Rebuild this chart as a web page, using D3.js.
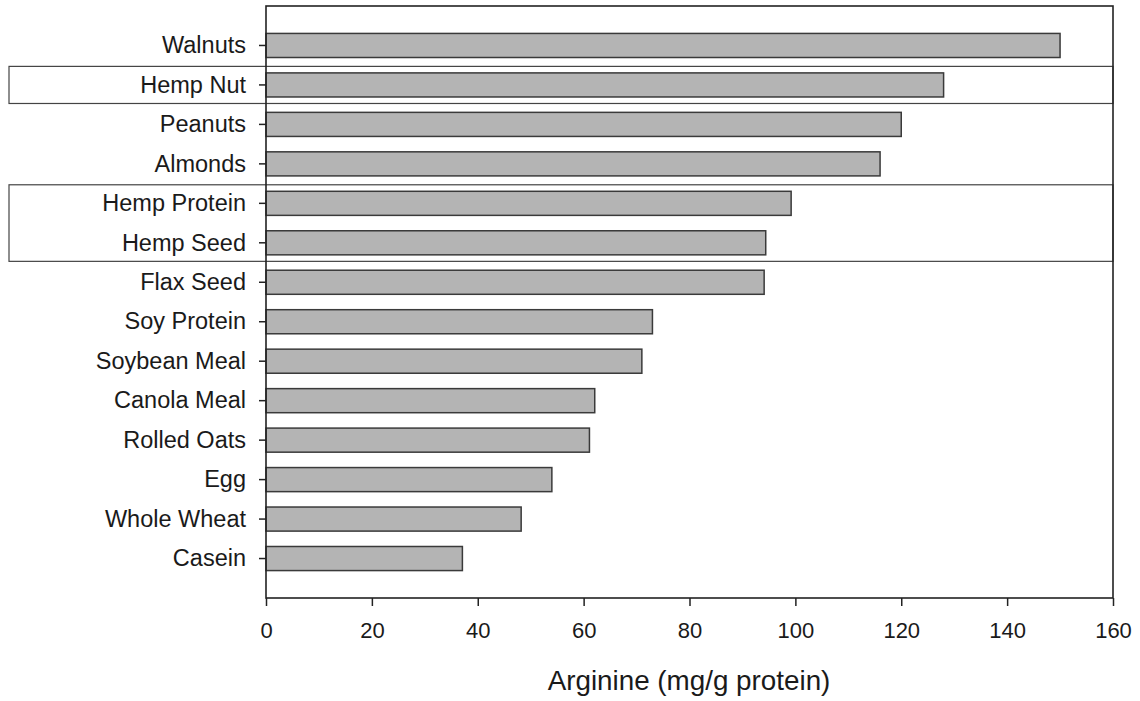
<!DOCTYPE html>
<html>
<head>
<meta charset="utf-8">
<script src="https://cdn.jsdelivr.net/npm/d3@7"></script>
<style>
  body { margin: 0; background: #fff; }
  svg { display: block; font-family: "Liberation Sans", Arial, sans-serif; }
</style>
</head>
<body>
<svg id="chart"></svg>
<script>
// data, top to bottom as drawn
const foods = ['Walnuts', 'Hemp Nut', 'Peanuts', 'Almonds', 'Hemp Protein', 'Hemp Seed',
  'Flax Seed', 'Soy Protein', 'Soybean Meal', 'Canola Meal', 'Rolled Oats', 'Egg',
  'Whole Wheat', 'Casein'];
const arginine = [150, 128, 120, 116, 99.2, 94.4, 94.1, 73, 71, 62.1, 61.1, 54, 48.2, 37.1];
const xTicks = [0, 20, 40, 60, 80, 100, 120, 140, 160];
const boxedGroups = [['Hemp Nut'], ['Hemp Protein', 'Hemp Seed']];
const xTitle = 'Arginine (mg/g protein)';

const W = 1140, H = 701;
const margin = { top: 6, right: 27, bottom: 103, left: 266 };
const boxLeft = 9;

const svg = d3.select('#chart').attr('width', W).attr('height', H);

const x = d3.scaleLinear()
  .domain([0, 160])
  .range([margin.left, W - margin.right]);

// one slot of padding above the first bar and below the last
const y = d3.scaleLinear()
  .domain([0, foods.length + 1])
  .range([margin.top, H - margin.bottom]);
const step = y(1) - y(0);
const barH = step * 0.61;

const yPos = name => y(foods.indexOf(name) + 1);

// highlight boxes behind everything
boxedGroups.forEach(g => {
  const top = yPos(g[0]) - step * 0.47;
  const bot = yPos(g[g.length - 1]) + step * 0.47;
  svg.append('rect')
    .attr('x', boxLeft)
    .attr('y', top)
    .attr('width', x(160) - boxLeft)
    .attr('height', bot - top)
    .attr('fill', 'none')
    .attr('stroke', '#444')
    .attr('stroke-width', 1.2);
});

// bars
svg.selectAll('.bar')
  .data(foods)
  .enter()
  .append('rect')
  .attr('class', 'bar')
  .attr('x', x(0))
  .attr('y', d => yPos(d) - barH / 2)
  .attr('width', (d, i) => x(arginine[i]) - x(0))
  .attr('height', barH)
  .attr('fill', '#b4b4b4')
  .attr('stroke', '#3a3a3a')
  .attr('stroke-width', 1.5);

// x axis
const xAxis = d3.axisBottom(x)
  .tickValues(xTicks)
  .tickSize(8)
  .tickSizeOuter(0)
  .tickPadding(16);

const gx = svg.append('g')
  .attr('transform', `translate(0, ${y(foods.length + 1)})`)
  .call(xAxis);
gx.select('.domain').remove();
gx.selectAll('line').attr('stroke', '#222').attr('stroke-width', 1.5);
gx.selectAll('text').attr('fill', '#1a1a1a').style('font-size', '22px');

// y axis ticks and labels
const gy = svg.append('g')
  .attr('transform', `translate(${x(0)}, 0)`);
gy.selectAll('.ytick')
  .data(foods)
  .enter()
  .append('g')
  .attr('class', 'ytick')
  .attr('transform', d => `translate(0, ${yPos(d)})`)
  .each(function(d) {
    const g = d3.select(this);
    g.append('line').attr('x1', -7).attr('x2', 0).attr('stroke', '#222').attr('stroke-width', 1.5);
    g.append('text')
      .attr('x', -20)
      .attr('dy', '0.33em')
      .attr('text-anchor', 'end')
      .attr('fill', '#1a1a1a')
      .style('font-size', '23.5px')
      .text(d);
  });

// plot frame
svg.append('rect')
  .attr('x', x(0))
  .attr('y', y(0))
  .attr('width', x(160) - x(0))
  .attr('height', y(foods.length + 1) - y(0))
  .attr('fill', 'none')
  .attr('stroke', '#222')
  .attr('stroke-width', 1.6);

// axis title
svg.append('text')
  .attr('x', 689)
  .attr('y', 690)
  .attr('text-anchor', 'middle')
  .attr('fill', '#1a1a1a')
  .style('font-size', '27.8px')
  .text(xTitle);
</script>
</body>
</html>
